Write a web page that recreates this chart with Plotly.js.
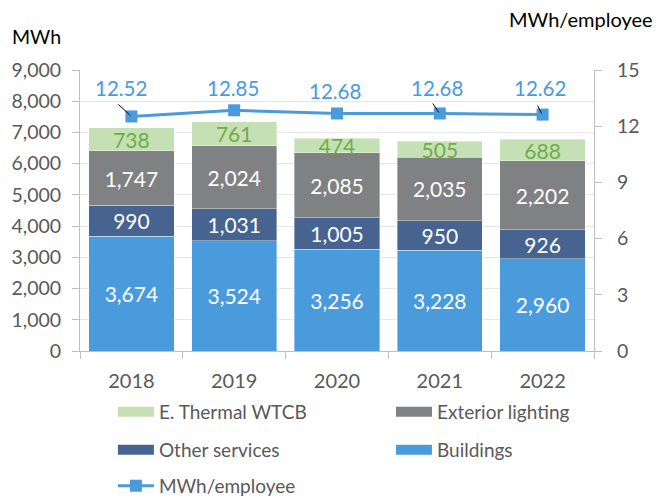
<!DOCTYPE html>
<html>
<head>
<meta charset="utf-8">
<script src="https://cdn.plot.ly/plotly-3.0.1.min.js"></script>
<style>html,body{margin:0;padding:0;background:#fff;}#chart{width:665px;height:499px;}</style>
</head>
<body>
<div id="chart"></div>
<script>
// ---- data ----
var years = ['2018', '2019', '2020', '2021', '2022'];
var buildings = [3674, 3524, 3256, 3228, 2960];
var otherServices = [990, 1031, 1005, 950, 926];
var exteriorLighting = [1747, 2024, 2085, 2035, 2202];
var thermalWTCB = [738, 761, 474, 505, 688];
var mwhPerEmployee = [12.52, 12.85, 12.68, 12.68, 12.62];

// ---- styles ----
var FONT = 'Lato, "Open Sans", sans-serif';
var C_BUILD = '#4A9BDC', C_OTHER = '#47638F', C_EXT = '#7F8183', C_THERM = '#C5E0B4';
var C_LINE = '#4A9BDC', C_TICK = '#595959', C_AXIS = '#BFBFBF', C_GRID = '#E6E6E6';
// label offsets (px) for the MWh/employee labels, and leader lines
var labelShift = [[-10, 28.5], [-1, 22], [-2, 22.5], [-3, 25.5], [-3, 26.5]];
var leaders = [[-13, 12], null, null, [-7, 10], [-5, 9]];

function barTrace(name, vals, color, textColor) {
  return {
    type: 'bar', name: name, x: years, y: vals,
    marker: {color: color, line: {color: 'rgba(255,255,255,0.5)', width: 0.75}},
    texttemplate: '%{y:,}', textposition: 'inside', insidetextanchor: 'middle',
    textangle: 0, constraintext: 'none',
    textfont: {family: FONT, size: 21, color: textColor},
    hoverinfo: 'x+y+name', showlegend: false
  };
}
function legendSwatch(name, color, legendId) {
  return {
    type: 'scatter', mode: 'lines', name: name, x: [years[0]], y: [null],
    line: {color: color, width: 10}, legend: legendId, hoverinfo: 'skip'
  };
}

var traces = [
  barTrace('Buildings', buildings, C_BUILD, '#FFFFFF'),
  barTrace('Other services', otherServices, C_OTHER, '#FFFFFF'),
  barTrace('Exterior lighting', exteriorLighting, C_EXT, '#FFFFFF'),
  barTrace('E. Thermal WTCB', thermalWTCB, C_THERM, '#70AD47'),
  {
    type: 'scatter', mode: 'lines+markers', name: 'MWh/employee', x: years, y: mwhPerEmployee,
    yaxis: 'y2', line: {color: C_LINE, width: 3},
    marker: {symbol: 'square', size: 12, color: C_LINE},
    legend: 'legend5'
  },
  legendSwatch('E. Thermal WTCB', C_THERM, 'legend'),
  legendSwatch('Exterior lighting', C_EXT, 'legend2'),
  legendSwatch('Other services', C_OTHER, 'legend3'),
  legendSwatch('Buildings', C_BUILD, 'legend4')
];

var annotations = years.map(function (yr, i) {
  return {
    x: i, y: mwhPerEmployee[i], xref: 'x', yref: 'y2', text: mwhPerEmployee[i].toFixed(2),
    showarrow: false, xshift: labelShift[i][0], yshift: labelShift[i][1],
    font: {family: FONT, size: 20.5, color: C_LINE}
  };
});
annotations.push({
  xref: 'paper', yref: 'paper', x: -0.136, y: 1.118, xanchor: 'left', yanchor: 'middle',
  text: 'MWh', showarrow: false, font: {family: FONT, size: 19.5, color: '#000000'}
});
annotations.push({
  xref: 'paper', yref: 'paper', x: 1.1187, y: 1.182, xanchor: 'right', yanchor: 'middle',
  text: 'MWh/employee', showarrow: false, font: {family: FONT, size: 20, color: '#000000'}
});

var shapes = [];
years.forEach(function (yr, i) {
  if (!leaders[i]) return;
  shapes.push({
    type: 'line', xref: 'x', yref: 'y2', xsizemode: 'pixel', ysizemode: 'pixel',
    xanchor: i, yanchor: mwhPerEmployee[i],
    x0: leaders[i][0], y0: leaders[i][1], x1: -1, y1: 1,
    line: {color: '#000000', width: 1}, layer: 'above'
  });
});

function legendCfg(x, y) {
  return {
    orientation: 'h', x: x, y: y, xanchor: 'left', yanchor: 'middle',
    xref: 'paper', yref: 'paper', itemwidth: 36,
    font: {family: FONT, size: 19, color: C_TICK}, bgcolor: 'rgba(0,0,0,0)'
  };
}
var LX1 = 0.064, LX2 = 0.605;

var layout = {
  width: 665, height: 499,
  margin: {l: 80, r: 71, t: 70, b: 148, autoexpand: false},
  paper_bgcolor: '#FFFFFF', plot_bgcolor: '#FFFFFF',
  font: {family: FONT, color: C_TICK},
  barmode: 'stack', bargap: 0.17,
  showlegend: true,
  xaxis: {
    type: 'category', range: [-0.5, 4.5], categoryorder: 'array', categoryarray: years,
    showline: true, linecolor: C_AXIS, linewidth: 1,
    ticks: 'outside', tickson: 'boundaries', ticklen: 7, tickcolor: C_AXIS,
    ticklabelstandoff: 12,
    tickfont: {family: FONT, size: 20, color: C_TICK}, showgrid: false
  },
  yaxis: {
    range: [0, 9000], dtick: 1000, tickformat: ',', showline: true, linecolor: C_AXIS,
    ticks: 'outside', ticklen: 7, tickcolor: C_AXIS, gridcolor: C_GRID, zeroline: false,
    ticklabelstandoff: 7,
    tickfont: {family: FONT, size: 19.5, color: C_TICK}
  },
  yaxis2: {
    range: [0, 15], dtick: 3, overlaying: 'y', side: 'right', showline: true, linecolor: C_AXIS,
    ticks: 'outside', ticklen: 7, tickcolor: C_AXIS, showgrid: false, zeroline: false,
    ticklabelstandoff: 11,
    tickfont: {family: FONT, size: 19.5, color: C_TICK}
  },
  legend: legendCfg(LX1, -0.217),
  legend2: legendCfg(LX2, -0.217),
  legend3: legendCfg(LX1, -0.352),
  legend4: legendCfg(LX2, -0.352),
  legend5: legendCfg(LX1, -0.480),
  annotations: annotations,
  shapes: shapes
};

Plotly.newPlot('chart', traces, layout, {displayModeBar: false, staticPlot: true});
</script>
</body>
</html>
